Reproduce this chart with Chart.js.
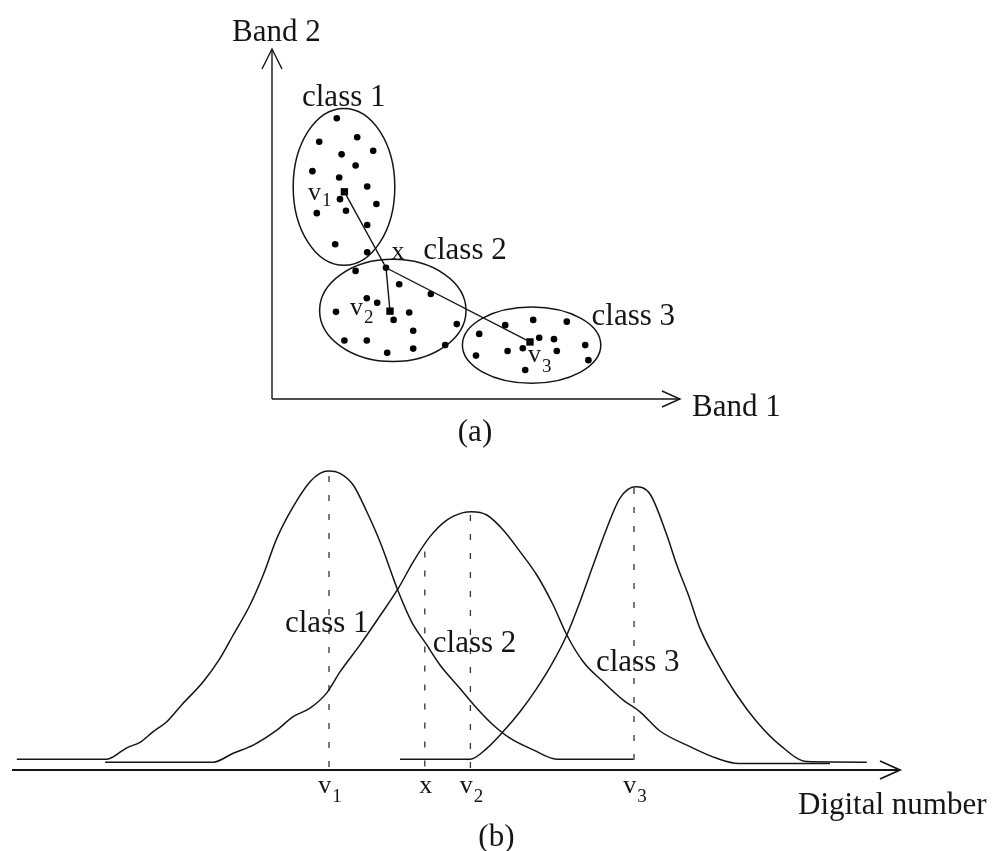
<!DOCTYPE html>
<html>
<head>
<meta charset="utf-8">
<script src="https://cdn.jsdelivr.net/npm/chart.js@4.4.0/dist/chart.umd.min.js"></script>
<style>
  html, body { margin: 0; padding: 0; background: #fff; }
  #wrap { position: relative; width: 994px; height: 851px; }
  canvas { position: absolute; left: 0; top: 0; }
</style>
</head>
<body>
<div id="wrap">
  <canvas id="scatterChart" width="994" height="851"></canvas>
  <canvas id="curveChart" width="994" height="851"></canvas>
</div>
<script>
// ---- (a) feature space: samples of each class in Band 1 / Band 2 ----
const class1Band1 = [16.2, 11.8, 21.3, 25.3, 17.4, 20.9, 10.1, 16.8, 23.8, 17.0, 18.5, 26.1, 11.2, 23.8, 15.8, 23.8];
const class1Band2 = [80.2, 73.5, 74.8, 70.9, 69.9, 66.7, 65.1, 63.3, 60.7, 57.1, 53.8, 55.7, 53.1, 49.7, 44.2, 41.9];
const class2Band1 = [20.9, 31.8, 39.7, 23.7, 26.3, 16.0, 34.3, 30.4, 46.2, 35.3, 18.1, 23.7, 35.3, 43.3, 28.8];
const class2Band2 = [36.6, 32.8, 30.0, 28.8, 27.5, 24.9, 24.7, 22.6, 21.4, 19.5, 16.7, 16.7, 14.4, 15.4, 13.2];
const class3Band1 = [51.8, 58.3, 65.3, 73.7, 66.8, 70.5, 78.3, 51.0, 58.9, 62.7, 71.2, 79.1, 63.3];
const class3Band2 = [18.6, 21.1, 22.6, 22.1, 17.5, 17.1, 15.4, 12.4, 13.7, 14.5, 13.7, 11.1, 8.3];

// class means v1, v2, v3 and the unknown pixel x
const meanBand1 = [18.1, 29.5, 64.5];
const meanBand2 = [59.2, 25.1, 16.3];
const pixelBand1 = 28.5;
const pixelBand2 = 37.5;

// cluster outlines (centre + half widths, in band units)
const clusterCx = [18.0, 30.2, 64.9];
const clusterCy = [60.6, 25.3, 15.4];
const clusterRx = [12.7, 18.3, 17.3];
const clusterRy = [22.4, 14.6, 10.9];

// ---- (b) histograms along one band ----
const class1DN = [1.2, 23.7, 25.3, 28.7, 32.0, 35.3, 38.7, 42.4, 47.8, 52.0, 55.3, 59.5, 62.8, 66.2, 70.3, 74.5, 77.0, 79.1, 82.0, 85.3, 88.7, 92.0, 96.6, 99.9, 103.7, 107.0, 112.0, 116.2, 120.3, 124.5, 130.3, 136.2, 155.3];
const class1Freq = [3.6, 3.6, 4.4, 7.4, 9.2, 12.8, 16.1, 21.7, 29.4, 37.2, 45.0, 55.0, 65.0, 77.2, 87.8, 96.1, 98.9, 99.7, 98.9, 95.0, 86.1, 76.1, 59.4, 49.4, 41.7, 35.0, 27.2, 20.6, 15.0, 10.6, 6.7, 3.6, 3.6];
const class2DN = [23.3, 50.3, 55.3, 60.3, 66.2, 70.3, 74.5, 78.7, 82.0, 87.0, 91.6, 96.6, 100.3, 104.5, 108.7, 112.8, 114.9, 118.7, 122.8, 127.0, 131.2, 135.3, 138.7, 142.8, 147.8, 152.8, 157.0, 162.0, 169.5, 176.2, 181.6, 204.5];
const class2Freq = [2.6, 2.6, 5.6, 8.3, 13.3, 17.8, 20.6, 25.7, 32.7, 41.7, 50.6, 60.6, 69.4, 77.8, 83.3, 85.8, 86.1, 85.0, 80.0, 72.8, 65.0, 55.0, 45.0, 36.1, 29.4, 23.3, 19.4, 13.0, 7.8, 3.9, 2.2, 2.2];
const class3DN = [97.0, 114.5, 118.7, 122.8, 127.0, 131.2, 135.3, 138.7, 142.0, 145.3, 148.7, 152.0, 155.8, 159.5, 163.7, 166.2, 169.1, 172.0, 176.2, 181.2, 186.2, 192.0, 198.7, 213.7];
const class3Freq = [3.6, 3.6, 7.2, 12.8, 19.4, 27.2, 36.1, 45.0, 56.1, 68.3, 80.6, 90.6, 94.4, 92.0, 78.3, 68.3, 58.3, 47.2, 36.1, 25.0, 16.1, 8.3, 2.8, 2.6];

// marked digital numbers (tick labels) and the height where the dashed guide starts
const markDN = [79.25, 103.2, 114.6, 155.5];
const markTop = [98, 72.8, 85, 94];
const markLabel = ['v', 'x', 'v', 'v'];
const markSub = ['1', '', '2', '3'];

const INK = '#151515';
const SERIF = '"Liberation Serif", "Times New Roman", serif';

function toPoints(xs, ys) {
  return xs.map((x, i) => ({ x: x, y: ys[i] }));
}

function font(size) {
  return size + 'px ' + SERIF;
}

// open arrow head at (x2, y2) pointing away from (x1, y1)
function drawArrow(ctx, x1, y1, x2, y2, len, half) {
  const a = Math.atan2(y2 - y1, x2 - x1);
  ctx.beginPath();
  ctx.moveTo(x1, y1);
  ctx.lineTo(x2, y2);
  ctx.stroke();
  const bx = x2 - len * Math.cos(a), by = y2 - len * Math.sin(a);
  const nx = -Math.sin(a) * half, ny = Math.cos(a) * half;
  ctx.beginPath();
  ctx.moveTo(bx + nx, by + ny);
  ctx.lineTo(x2, y2);
  ctx.lineTo(bx - nx, by - ny);
  ctx.stroke();
}

// "v" with a subscript digit, left aligned at x
function drawSubLabel(ctx, main, sub, x, y, size, subSize, drop) {
  ctx.textAlign = 'left';
  ctx.font = font(size);
  ctx.fillText(main, x, y);
  const w = ctx.measureText(main).width;
  if (sub) {
    ctx.font = font(subSize);
    ctx.fillText(sub, x + w + 1, y + drop);
  }
}

function subLabelWidth(ctx, main, sub, size, subSize) {
  ctx.font = font(size);
  let w = ctx.measureText(main).width;
  if (sub) {
    ctx.font = font(subSize);
    w += ctx.measureText(sub).width + 1;
  }
  return w;
}

// ---------- chart (a) ----------
const scatterNotes = [
  { text: 'class 1', x: 7.5, y: 83.7 },
  { text: 'x', x: 29.9, y: 39.9, size: 26 },
  { text: 'class 2', x: 37.8, y: 39.9 },
  { text: 'class 3', x: 79.9, y: 21.1 }
];
const meanNotes = [
  { sub: '1', x: 9.0, y: 57.0, drop: 6 },
  { sub: '2', x: 19.5, y: 24.0, drop: 8 },
  { sub: '3', x: 64.0, y: 10.7, drop: 10 }
];

const featureSpacePlugin = {
  id: 'featureSpace',
  beforeDatasetsDraw(chart) {
    const ctx = chart.ctx;
    const xs = chart.scales.x, ys = chart.scales.y;
    ctx.save();
    ctx.strokeStyle = INK;
    ctx.lineWidth = 1.5;
    for (let i = 0; i < clusterCx.length; i++) {
      const cx = xs.getPixelForValue(clusterCx[i]);
      const cy = ys.getPixelForValue(clusterCy[i]);
      const rx = xs.getPixelForValue(clusterCx[i] + clusterRx[i]) - cx;
      const ry = cy - ys.getPixelForValue(clusterCy[i] + clusterRy[i]);
      ctx.beginPath();
      ctx.ellipse(cx, cy, rx, ry, 0, 0, Math.PI * 2);
      ctx.stroke();
    }
    // axes with arrows
    const x0 = xs.getPixelForValue(0), y0 = ys.getPixelForValue(0);
    const xEnd = xs.getPixelForValue(xs.max), yEnd = ys.getPixelForValue(ys.max);
    ctx.lineWidth = 1.4;
    drawArrow(ctx, x0, y0, xEnd, y0, 18, 8);
    drawArrow(ctx, x0, y0, x0, yEnd, 20, 10);
    ctx.restore();
  },
  afterDatasetsDraw(chart) {
    const ctx = chart.ctx;
    const xs = chart.scales.x, ys = chart.scales.y;
    const x0 = xs.getPixelForValue(0), y0 = ys.getPixelForValue(0);
    const xEnd = xs.getPixelForValue(xs.max), yEnd = ys.getPixelForValue(ys.max);
    ctx.save();
    ctx.fillStyle = INK;
    ctx.textBaseline = 'alphabetic';
    scatterNotes.forEach(n => {
      ctx.font = font(n.size || 31);
      ctx.textAlign = 'left';
      ctx.fillText(n.text, xs.getPixelForValue(n.x), ys.getPixelForValue(n.y));
    });
    meanNotes.forEach(n => {
      drawSubLabel(ctx, 'v', n.sub, xs.getPixelForValue(n.x), ys.getPixelForValue(n.y), 26, 19, n.drop);
    });
    ctx.font = font(31);
    ctx.textAlign = 'left';
    ctx.fillText('Band 2', x0 - 40, yEnd - 8);
    ctx.fillText('Band 1', xEnd + 12, y0 + 17);
    ctx.textAlign = 'center';
    ctx.fillText('(a)', (x0 + xEnd) / 2 - 1, y0 + 42);
    ctx.restore();
  }
};

const meanPoints = toPoints(meanBand1, meanBand2);
const xPoint = { x: pixelBand1, y: pixelBand2 };

new Chart(document.getElementById('scatterChart'), {
  type: 'scatter',
  data: {
    datasets: [
      { label: 'v1 to x to v2', data: [meanPoints[0], xPoint, meanPoints[1]], showLine: true,
        pointRadius: 0, borderColor: INK, borderWidth: 1.4 },
      { label: 'x to v3', data: [xPoint, meanPoints[2]], showLine: true,
        pointRadius: 0, borderColor: INK, borderWidth: 1.4 },
      { label: 'class 1', data: toPoints(class1Band1, class1Band2), pointRadius: 3.3,
        backgroundColor: '#000', borderWidth: 0 },
      { label: 'class 2', data: toPoints(class2Band1, class2Band2), pointRadius: 3.3,
        backgroundColor: '#000', borderWidth: 0 },
      { label: 'class 3', data: toPoints(class3Band1, class3Band2), pointRadius: 3.3,
        backgroundColor: '#000', borderWidth: 0 },
      { label: 'x', data: [xPoint], pointRadius: 3.3, backgroundColor: '#000', borderWidth: 0 },
      { label: 'means', data: meanPoints, pointStyle: 'rect', pointRadius: 5.2,
        backgroundColor: '#000', borderWidth: 0 }
    ]
  },
  options: {
    responsive: false,
    animation: false,
    events: [],
    layout: { autoPadding: false, padding: { left: 272, right: 314, top: 49, bottom: 452 } },
    scales: {
      x: { type: 'linear', min: 0, max: 102, display: false },
      y: { type: 'linear', min: 0, max: 100, display: false }
    },
    plugins: { legend: { display: false }, tooltip: { enabled: false } }
  },
  plugins: [featureSpacePlugin]
});

// ---------- chart (b) ----------
const curveNotes = [
  { text: 'class 1', x: 68.25, y: 46.0 },
  { text: 'class 2', x: 105.2, y: 39.2 },
  { text: 'class 3', x: 146.0, y: 33.0 }
];

const histogramPlugin = {
  id: 'histogramAxis',
  beforeDatasetsDraw(chart) {
    const ctx = chart.ctx;
    const xs = chart.scales.x, ys = chart.scales.y;
    const y0 = ys.getPixelForValue(0);
    ctx.save();
    ctx.strokeStyle = INK;
    ctx.lineWidth = 1.8;
    drawArrow(ctx, xs.getPixelForValue(xs.min), y0, xs.getPixelForValue(xs.max), y0, 20, 9);
    ctx.restore();
  },
  afterDatasetsDraw(chart) {
    const ctx = chart.ctx;
    const xs = chart.scales.x, ys = chart.scales.y;
    const y0 = ys.getPixelForValue(0);
    ctx.save();
    ctx.fillStyle = INK;
    ctx.textBaseline = 'alphabetic';
    curveNotes.forEach(n => {
      ctx.font = font(31);
      ctx.textAlign = 'left';
      ctx.fillText(n.text, xs.getPixelForValue(n.x), ys.getPixelForValue(n.y));
    });
    markDN.forEach((dn, i) => {
      const w = subLabelWidth(ctx, markLabel[i], markSub[i], 26, 19);
      const cx = xs.getPixelForValue(dn);
      drawSubLabel(ctx, markLabel[i], markSub[i], cx - w / 2 + 1, y0 + 23, 26, 19, 9);
    });
    ctx.font = font(31);
    ctx.textAlign = 'left';
    ctx.fillText('Digital number', xs.getPixelForValue(xs.max) - 102, y0 + 44);
    ctx.textAlign = 'center';
    ctx.fillText('(b)', xs.getPixelForValue(121.1), y0 + 76);
    ctx.restore();
  }
};

const curveStyle = {
  showLine: true, pointRadius: 0, borderColor: INK, borderWidth: 1.5,
  cubicInterpolationMode: 'monotone'
};
const guideSets = markDN.map((dn, i) => ({
  label: 'guide ' + markLabel[i] + markSub[i],
  data: [{ x: dn, y: markTop[i] }, { x: dn, y: 0 }],
  showLine: true, pointRadius: 0, borderColor: '#333', borderWidth: 1.3,
  borderDash: [6, 13]
}));

new Chart(document.getElementById('curveChart'), {
  type: 'scatter',
  data: {
    datasets: [
      Object.assign({ label: 'class 1', data: toPoints(class1DN, class1Freq) }, curveStyle),
      Object.assign({ label: 'class 2', data: toPoints(class2DN, class2Freq) }, curveStyle),
      Object.assign({ label: 'class 3', data: toPoints(class3DN, class3Freq) }, curveStyle)
    ].concat(guideSets)
  },
  options: {
    responsive: false,
    animation: false,
    events: [],
    layout: { autoPadding: false, padding: { left: 12, right: 94, top: 455, bottom: 81 } },
    scales: {
      x: { type: 'linear', min: 0, max: 222, display: false },
      y: { type: 'linear', min: 0, max: 105, display: false }
    },
    plugins: { legend: { display: false }, tooltip: { enabled: false } }
  },
  plugins: [histogramPlugin]
});
</script>
</body>
</html>
